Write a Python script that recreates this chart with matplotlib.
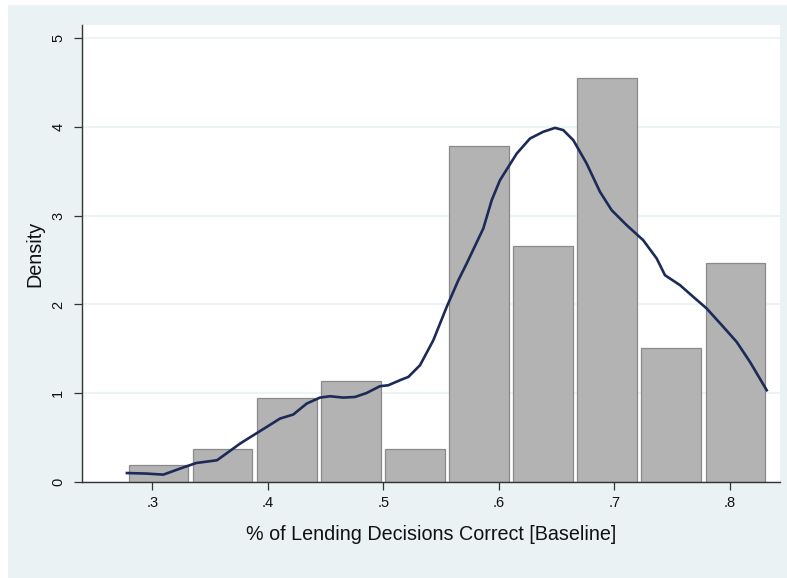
import matplotlib
matplotlib.use("Agg")
import matplotlib.pyplot as plt
from matplotlib.patches import Rectangle

# histogram bins (left edges) and densities
bin_left = [0.2801, 0.3355, 0.3910, 0.4464, 0.5018, 0.5573, 0.6127, 0.6681, 0.7235, 0.7790]
density = [0.188, 0.376, 0.947, 1.139, 0.376, 3.79, 2.654, 4.548, 1.515, 2.462]

# kernel density curve
kde_x = [0.278, 0.295, 0.3095, 0.324, 0.338, 0.356, 0.364, 0.376, 0.3875, 0.399,
         0.4106, 0.422, 0.4337, 0.4452, 0.4538, 0.4654, 0.4755, 0.4856, 0.497, 0.5043,
         0.5145, 0.5217, 0.5318, 0.5433, 0.5549, 0.5650, 0.5722, 0.5866, 0.5939, 0.601,
         0.6155, 0.627, 0.6385, 0.6487, 0.6558, 0.6645, 0.676, 0.6876, 0.6977, 0.7107,
         0.725, 0.7367, 0.7439, 0.7569, 0.7684, 0.78, 0.7944, 0.806, 0.8175, 0.832]
kde_y = [0.101, 0.095, 0.083, 0.151, 0.214, 0.245, 0.32, 0.433, 0.527, 0.62,
         0.715, 0.76, 0.884, 0.951, 0.966, 0.951, 0.958, 1.003, 1.079, 1.09,
         1.147, 1.184, 1.316, 1.597, 1.973, 2.274, 2.462, 2.857, 3.176, 3.40,
         3.70, 3.87, 3.946, 3.99, 3.965, 3.852, 3.59, 3.27, 3.063, 2.894,
         2.725, 2.519, 2.33, 2.218, 2.086, 1.955, 1.748, 1.578, 1.353, 1.034]

x_ticks = [0.3, 0.4, 0.5, 0.6, 0.7, 0.8]
x_labels = [".3", ".4", ".5", ".6", ".7", ".8"]
y_ticks = [0, 1, 2, 3, 4, 5]

plt.rcParams['font.family'] = ['Liberation Sans', 'DejaVu Sans']

bg = "#eaf2f3"
fig = plt.figure(figsize=(7.87, 5.78), dpi=100, facecolor="white")
# light outer graph region (drawn behind the axes)
bg_rect = Rectangle((8 / 787, 0), 1 - 8 / 787, 1 - 5 / 578,
                    transform=fig.transFigure, facecolor=bg,
                    edgecolor="none", zorder=-10)
fig.add_artist(bg_rect)

ax = fig.add_axes([82 / 787, 1 - 482 / 578, (780 - 82) / 787, (482 - 25) / 578])
ax.set_zorder(1)
ax.set_facecolor("white")

ax.bar(bin_left, density, width=0.0512, align="edge", color="#b3b3b3",
       edgecolor="#8a8a8a", linewidth=0.9, zorder=2)
ax.plot(kde_x, kde_y, color="#1c2a58", linewidth=1.9, zorder=3,
        solid_joinstyle="round")

ax.set_xlim(0.2391, 0.8435)
ax.set_ylim(0, 5.149)
ax.set_xticks(x_ticks)
ax.set_xticklabels(x_labels)
ax.set_yticks(y_ticks)
ax.set_yticklabels([str(v) for v in y_ticks], rotation=90, va="center")

ax.grid(True, axis="y", color=bg, linewidth=1.2, zorder=1)
ax.set_axisbelow(True)

for side in ["top", "right"]:
    ax.spines[side].set_visible(False)
for side in ["left", "bottom"]:
    ax.spines[side].set_color("#333333")
    ax.spines[side].set_linewidth(1.0)

ax.tick_params(axis="both", direction="out", length=6, width=0.9,
               color="#333333", labelsize=10.5, labelcolor="#111111")
ax.tick_params(axis="y", pad=6)
ax.tick_params(axis="x", pad=4)

ax.set_xlabel("% of Lending Decisions Correct [Baseline]", fontsize=14.2,
              color="#111111", labelpad=11)
ax.set_ylabel("Density", fontsize=14.2, color="#111111", labelpad=5)

fig.savefig("out.png", dpi=100, facecolor=fig.get_facecolor())
